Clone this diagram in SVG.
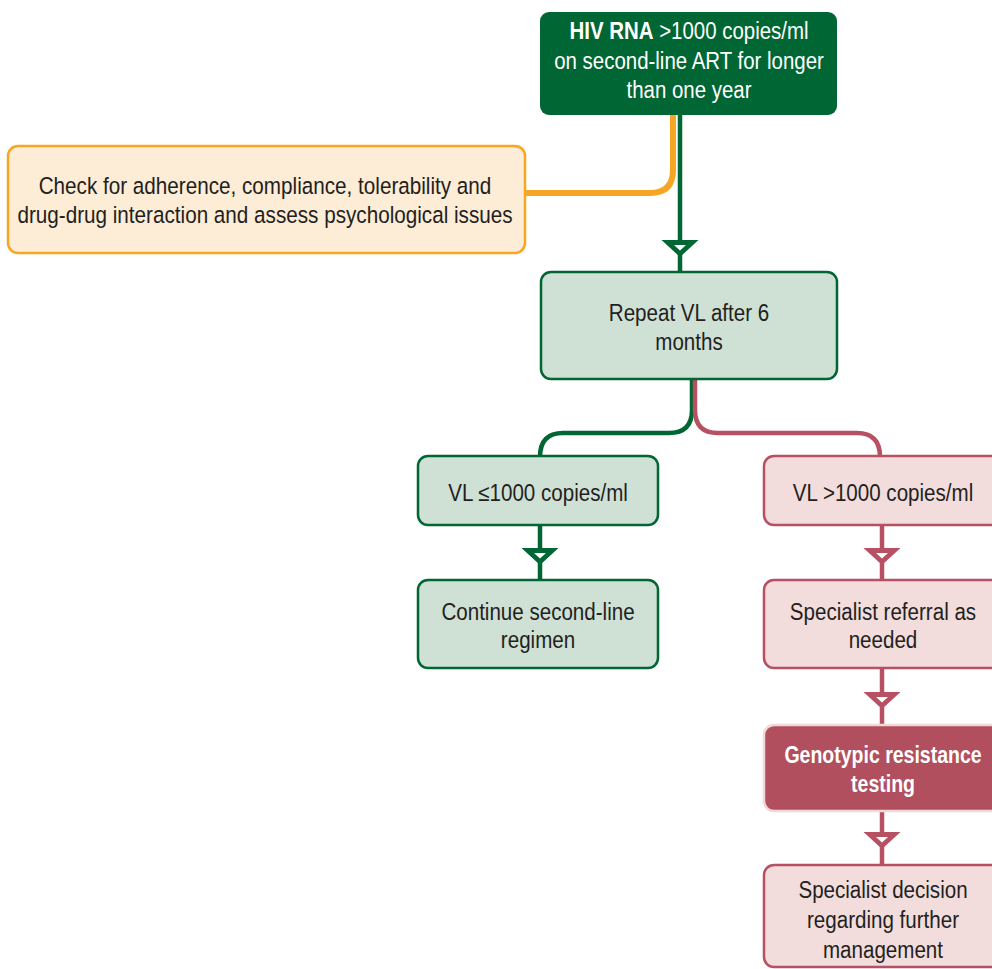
<svg xmlns="http://www.w3.org/2000/svg" width="992" height="969" viewBox="0 0 992 969">
<style>
text{font-family:"Liberation Sans",Arial,sans-serif;font-size:23.5px;fill:#231f20;text-anchor:middle}
.w{fill:#ffffff}
.b{font-weight:bold}
.gbox{fill:#cfe0d5;stroke:#006633;stroke-width:2.5}
.rbox{fill:#f2dcdc;stroke:#b65062;stroke-width:2.5}
.obox{fill:#fdecd6;stroke:#f6a623;stroke-width:2.5}
.gl{fill:none;stroke:#006633;stroke-width:4.5}
.rl{fill:none;stroke:#b65062;stroke-width:4.5}
.ol{fill:none;stroke:#f6a623;stroke-width:6}
</style>
<defs>
<g id="ag"><polygon points="-18.5,0 18.5,0 0,17" fill="#006633"/><polygon points="-6,5 6,5 0,10.5" fill="#ffffff"/></g>
<g id="ar"><polygon points="-18.5,0 18.5,0 0,17" fill="#b65062"/><polygon points="-6,5 6,5 0,10.5" fill="#ffffff"/></g>
</defs>
<g id="connectors">
<path class="ol" d="M673 112 V170 Q673 193 650 193 H524"/>
<path class="gl" d="M680 112 V273"/>
<use href="#ag" x="680" y="240"/>
<path class="gl" d="M692 378 V410 Q692 433 669 433 H563 Q540 433 540 457"/>
<path class="rl" d="M695 378 V410 Q695 433 718 433 H857 Q880 433 880 457"/>
<path class="gl" d="M540 524 V581"/>
<use href="#ag" x="540" y="548"/>
<path class="rl" d="M882 524 V581"/>
<use href="#ar" x="882" y="548"/>
<path class="rl" d="M882 667 V726"/>
<use href="#ar" x="882" y="692"/>
<path class="rl" d="M882 810 V866"/>
<use href="#ar" x="882" y="832"/>
</g>
<g id="n1">
<rect x="540" y="12" width="297" height="103" rx="9" fill="#006633"/>
<text transform="translate(689 39) scale(0.87 1)" class="w"><tspan class="b">HIV RNA</tspan> &gt;1000 copies/ml</text>
<text transform="translate(689 69) scale(0.87 1)" class="w">on second-line ART for longer</text>
<text transform="translate(689 98) scale(0.87 1)" class="w">than one year</text>
</g>
<g id="n2">
<rect class="obox" x="8" y="146" width="517" height="107" rx="10"/>
<text transform="translate(265 194) scale(0.88 1)">Check for adherence, compliance, tolerability and</text>
<text transform="translate(265 223) scale(0.88 1)">drug-drug interaction and assess psychological issues</text>
</g>
<g id="n3">
<rect class="gbox" x="541" y="272" width="296" height="107" rx="10"/>
<text transform="translate(689 321) scale(0.875 1)">Repeat VL after 6</text>
<text transform="translate(689 350) scale(0.875 1)">months</text>
</g>
<g id="n4">
<rect class="gbox" x="418" y="456" width="240" height="69" rx="10"/>
<text transform="translate(538 501) scale(0.875 1)">VL ≤1000 copies/ml</text>
</g>
<g id="n5">
<rect class="rbox" x="764" y="456" width="240" height="69" rx="10"/>
<text transform="translate(883 501) scale(0.875 1)">VL &gt;1000 copies/ml</text>
</g>
<g id="n6">
<rect class="gbox" x="418" y="580" width="240" height="88" rx="10"/>
<text transform="translate(538 620) scale(0.875 1)">Continue second-line</text>
<text transform="translate(538 648) scale(0.875 1)">regimen</text>
</g>
<g id="n7">
<rect class="rbox" x="764" y="580" width="240" height="88" rx="10"/>
<text transform="translate(883 620) scale(0.875 1)">Specialist referral as</text>
<text transform="translate(883 648) scale(0.875 1)">needed</text>
</g>
<g id="n8">
<rect x="764" y="725" width="240" height="86" rx="10" fill="#b14f5e" stroke="#f0d8d8" stroke-width="2.5"/>
<text transform="translate(883 763) scale(0.83 1)" class="w b">Genotypic resistance</text>
<text transform="translate(883 792) scale(0.83 1)" class="w b">testing</text>
</g>
<g id="n9">
<rect class="rbox" x="764" y="865" width="240" height="102" rx="10"/>
<text transform="translate(883 898) scale(0.875 1)">Specialist decision</text>
<text transform="translate(883 928) scale(0.875 1)">regarding further</text>
<text transform="translate(883 958) scale(0.875 1)">management</text>
</g>
</svg>
